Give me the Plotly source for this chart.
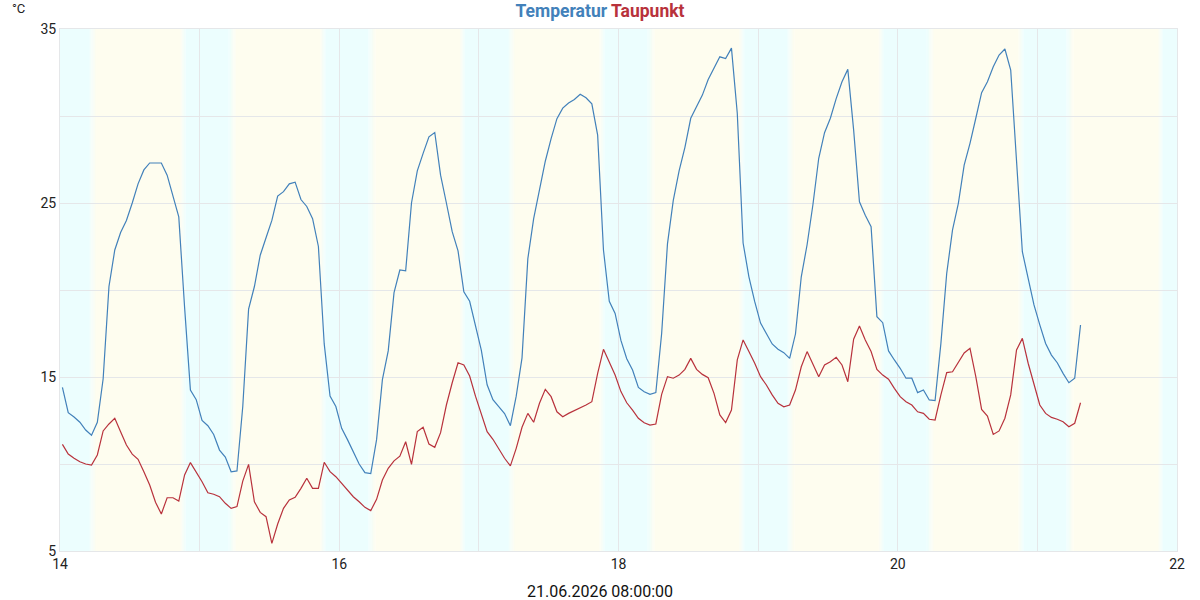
import plotly.graph_objects as go
import pandas as pd

# ---- data (hourly readings) ----
temp_d14 = [14.4, 12.95, 12.7, 12.4, 11.95, 11.65, 12.4, 14.9, 20.2, 22.3, 23.3, 24.0, 25.0, 26.1, 26.9, 27.3, 27.3, 27.3, 26.6, 25.4, 24.2, 19.0, 14.25, 13.7]
temp_d15 = [12.5, 12.2, 11.7, 10.8, 10.4, 9.55, 9.6, 13.3, 18.9, 20.2, 22.0, 23.0, 24.0, 25.4, 25.65, 26.1, 26.2, 25.2, 24.8, 24.1, 22.5, 16.9, 13.9, 13.3]
temp_d16 = [12.05, 11.4, 10.65, 10.0, 9.5, 9.45, 11.4, 14.85, 16.5, 19.85, 21.15, 21.1, 25.0, 26.85, 27.85, 28.8, 29.05, 26.6, 25.0, 23.35, 22.25, 19.9, 19.35, 17.9]
temp_d17 = [16.55, 14.55, 13.7, 13.3, 12.9, 12.2, 13.9, 16.1, 21.8, 24.1, 25.65, 27.4, 28.7, 29.85, 30.45, 30.75, 30.95, 31.25, 31.05, 30.7, 28.9, 22.3, 19.35, 18.65]
temp_d18 = [17.1, 16.05, 15.4, 14.4, 14.15, 14.0, 14.1, 17.5, 22.65, 25.15, 26.85, 28.2, 29.87, 30.5, 31.2, 32.1, 32.74, 33.4, 33.3, 33.9, 30.16, 22.7, 20.76, 19.33]
temp_d19 = [18.1, 17.5, 16.9, 16.6, 16.4, 16.07, 17.47, 20.76, 22.6, 24.9, 27.57, 29.04, 29.87, 31.0, 31.97, 32.68, 29.2, 25.07, 24.3, 23.64, 18.47, 18.12, 16.5, 15.98]
temp_d20 = [15.5, 14.93, 14.93, 14.1, 14.25, 13.68, 13.64, 16.93, 20.96, 23.45, 24.98, 27.18, 28.43, 29.87, 31.34, 31.97, 32.83, 33.5, 33.85, 32.64, 27.28, 22.2, 20.67, 19.14]
temp_d21 = [18.0, 16.93, 16.26, 15.82, 15.21, 14.67, 14.93, 17.99]

dew_d14 = [11.13, 10.57, 10.33, 10.13, 10.0, 9.94, 10.52, 11.9, 12.3, 12.63, 11.86, 11.09, 10.57, 10.27, 9.56, 8.79, 7.8, 7.13, 8.06, 8.06, 7.87, 9.37, 10.08, 9.56]
dew_d15 = [8.98, 8.35, 8.26, 8.12, 7.74, 7.45, 7.55, 9.02, 9.98, 7.83, 7.22, 6.97, 5.44, 6.55, 7.45, 7.93, 8.09, 8.6, 9.18, 8.6, 8.6, 10.1, 9.56, 9.27]
dew_d16 = [8.89, 8.47, 8.12, 7.83, 7.51, 7.32, 7.97, 9.08, 9.75, 10.18, 10.45, 11.28, 9.98, 11.86, 12.11, 11.15, 10.96, 11.8, 13.39, 14.67, 15.82, 15.69, 15.06, 13.9]
dew_d17 = [12.82, 11.86, 11.42, 10.9, 10.33, 9.89, 10.9, 12.11, 12.91, 12.4, 13.49, 14.29, 13.87, 13.0, 12.72, 12.91, 13.06, 13.2, 13.39, 13.58, 15.21, 16.59, 15.82, 15.11]
dew_d18 = [14.16, 13.52, 13.1, 12.63, 12.37, 12.24, 12.3, 14.0, 15.02, 14.93, 15.11, 15.44, 16.07, 15.44, 15.15, 14.96, 14.06, 12.82, 12.38, 13.1, 15.98, 17.13, 16.46, 15.79]
dew_d19 = [15.02, 14.54, 13.97, 13.49, 13.29, 13.39, 14.25, 15.59, 16.46, 15.69, 15.02, 15.69, 15.88, 16.13, 15.69, 14.73, 17.17, 17.93, 17.13, 16.46, 15.44, 15.11, 14.87, 14.35]
dew_d20 = [13.87, 13.58, 13.39, 13.0, 12.91, 12.57, 12.53, 13.97, 15.25, 15.3, 15.85, 16.38, 16.65, 15.02, 13.14, 12.76, 11.7, 11.9, 12.63, 13.97, 16.55, 17.22, 15.79, 14.54]
dew_d21 = [13.39, 12.91, 12.68, 12.57, 12.43, 12.14, 12.34, 13.52]

days = ["2026-06-14", "2026-06-15", "2026-06-16", "2026-06-17",
        "2026-06-18", "2026-06-19", "2026-06-20", "2026-06-21"]
tick_days = ["2026-06-14", "2026-06-16", "2026-06-18", "2026-06-20", "2026-06-22"]
tick_labels = ["14", "16", "18", "20", "22"]
y_ticks = [5, 15, 25, 35]
x_title = "21.06.2026 08:00:00"

temperature = temp_d14 + temp_d15 + temp_d16 + temp_d17 + temp_d18 + temp_d19 + temp_d20 + temp_d21
dewpoint = dew_d14 + dew_d15 + dew_d16 + dew_d17 + dew_d18 + dew_d19 + dew_d20 + dew_d21
times = pd.date_range("2026-06-14 00:25", periods=len(temperature), freq="h")

BLUE = "#4281BA"
RED = "#B8323C"
FONT = "Roboto"

fig = go.Figure()
fig.add_trace(go.Scatter(x=times, y=temperature, mode="lines",
                         line=dict(color=BLUE, width=1.2), name="Temperatur"))
fig.add_trace(go.Scatter(x=times, y=dewpoint, mode="lines",
                         line=dict(color=RED, width=1.2), name="Taupunkt"))

# ---- day / night background ----
CYAN = (236, 254, 254)
YELL = (254, 253, 239)


def mix(a, b, t):
    return "rgb(%d,%d,%d)" % tuple(round(a[i] + (b[i] - a[i]) * t) for i in range(3))


def rect(t0, t1, color):
    fig.add_shape(type="rect", xref="x", yref="paper", x0=t0, x1=t1, y0=0, y1=1,
                  fillcolor=color, line_width=0, layer="below")


def gradient(d, h0, h1, c0, c1, steps=6):
    base = pd.Timestamp(d)
    for k in range(steps):
        a = base + pd.Timedelta(hours=h0 + (h1 - h0) * k / steps)
        b = base + pd.Timedelta(hours=h0 + (h1 - h0) * (k + 1) / steps)
        rect(a, b, mix(c0, c1, (k + 0.5) / steps))


for d in days:
    base = pd.Timestamp(d)
    rect(base, base + pd.Timedelta(hours=5.0), mix(CYAN, CYAN, 0))
    gradient(d, 5.0, 6.2, CYAN, YELL)
    rect(base + pd.Timedelta(hours=6.2), base + pd.Timedelta(hours=20.75), mix(YELL, YELL, 0))
    gradient(d, 20.75, 21.6, YELL, CYAN)
    rect(base + pd.Timedelta(hours=21.6), base + pd.Timedelta(hours=24), mix(CYAN, CYAN, 0))

GRID = "#E5E7E9"
fig.update_layout(
    width=1200, height=600,
    margin=dict(l=60, r=23, t=29, b=49),
    paper_bgcolor="white", plot_bgcolor="white",
    showlegend=False,
    font=dict(family=FONT, size=14, color="#222222"),
    title=dict(
        text=f"<b><span style='color:{BLUE}'>Temperatur</span> <span style='color:{RED}'>Taupunkt</span></b>",
        x=0.5, xref="container", xanchor="center",
        y=0.982, yref="container", yanchor="middle",
        font=dict(family=FONT, size=17.5)),
    xaxis=dict(
        type="date", range=["2026-06-14", "2026-06-22"],
        tickmode="array", tickvals=tick_days, ticktext=tick_labels,
        showgrid=True, gridcolor=GRID, gridwidth=1,
        minor=dict(dtick=86400000, showgrid=True, gridcolor=GRID, gridwidth=1),
        showline=True, linecolor=GRID, linewidth=1, mirror=True,
        ticks="", zeroline=False, tickfont=dict(size=14, color="#222222")),
    yaxis=dict(
        range=[5, 35], tickmode="array", tickvals=y_ticks,
        showgrid=True, gridcolor=GRID, gridwidth=1,
        minor=dict(dtick=5, tick0=5, showgrid=True, gridcolor=GRID, gridwidth=1),
        showline=True, linecolor=GRID, linewidth=1, mirror=True,
        ticks="", zeroline=False, tickfont=dict(size=14, color="#222222")),
)

fig.add_annotation(text="°C", xref="paper", yref="paper", x=-0.0448, y=1.040,
                   xanchor="left", yanchor="middle", showarrow=False,
                   font=dict(family=FONT, size=13, color="#222222"))
fig.add_annotation(text=x_title, xref="paper", yref="paper", x=0.4834, y=-0.077,
                   xanchor="center", yanchor="middle", showarrow=False,
                   font=dict(family=FONT, size=16, color="#111111"))

fig.write_html("out.html")
